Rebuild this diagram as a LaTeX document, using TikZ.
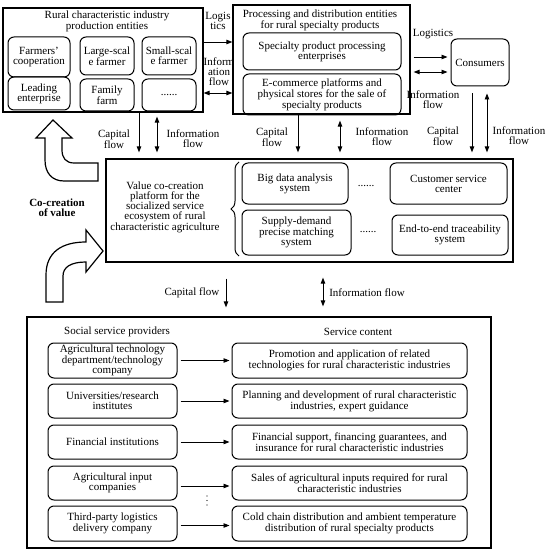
\documentclass[tikz,border=0pt]{standalone}
\usepackage{fontspec}
\setmainfont{Liberation Serif}
\usetikzlibrary{arrows.meta,decorations.pathreplacing,calc}
\begin{document}
\begin{tikzpicture}[x=1pt,y=-1pt,
  every node/.style={font=\fontsize{11}{10}\selectfont, align=center, inner sep=0pt},
  rbox/.style={draw, rounded corners=6pt, line width=1pt},
  obox/.style={draw, line width=1.3pt},
  arr/.style={line width=0.9pt, -{Triangle[length=6pt,width=4.5pt]}},
  darr/.style={line width=0.9pt, {Triangle[length=6pt,width=4.5pt]}-{Triangle[length=6pt,width=4.5pt]}},
  blk/.style={line width=1.2pt, fill=white, line join=miter}]
\useasboundingbox (0,0) rectangle (550,556);

% ---------- top-left group
\node[obox, minimum width=200pt, minimum height=104pt] (tl) at (103,60) {};
\node (tlt) at (107,21) {Rural characteristic industry\\production entities};
\node[rbox, minimum width=62pt, minimum height=40pt] (fc) at (39,57) {Farmers'\\cooperation};
\node[rbox, minimum width=62pt, minimum height=33pt] (le) at (39,93.5) {Leading\\enterprise};
\node[rbox, minimum width=54pt, minimum height=38pt] (ls) at (107,56) {Large-scal\\e farmer};
\node[rbox, minimum width=54pt, minimum height=32pt] (ff) at (107,95) {Family\\farm};
\node[rbox, minimum width=54pt, minimum height=38pt] (ss) at (169,56) {Small-scal\\e farmer};
\node[rbox, minimum width=54pt, minimum height=32pt] (dd) at (169,95) {......};

% ---------- top-middle group
\node[obox, minimum width=177pt, minimum height=109pt] (tm) at (321.5,59.5) {};
\node (tmt) at (320,20) {Processing and distribution entities\\for rural specialty products};
\node[rbox, minimum width=158pt, minimum height=37pt] (sp) at (322,51.5) {Specialty product processing\\enterprises};
\node[rbox, minimum width=158pt, minimum height=41pt] (ec) at (322,94.5) {E-commerce platforms and\\physical stores for the sale of\\specialty products};

% ---------- consumers
\node[rbox, minimum width=58pt, minimum height=47pt] (cons) at (480,62.5) {Consumers};

% ---------- arrows on top row
\draw[arr] (tl.east |- 0,42) -- (tm.west |- 0,42);
\draw[darr] (tl.east |- 0,93) -- (tm.west |- 0,93);
\node (lg1) at (218,21) {Logis\\tics};
\node (if1) at (219,72) {Inform\\ation\\flow};

\draw[arr] ([xshift=3pt]tm.east |- 0,57) -- ([xshift=-3pt]cons.west |- 0,57);
\draw[darr] ([xshift=3pt]tm.east |- 0,72) -- ([xshift=-3pt]cons.west |- 0,72);
\node (lg2) at (433,34) {Logistics};
\node (if2) at (433,100) {Information\\flow};

% ---------- platform
\node[obox, minimum width=407pt, minimum height=103pt] (plat) at (309.5,210.5) {};
\node (platt) at (165,207) {Value co-creation\\platform for the\\socialized service\\ecosystem of rural\\characteristic agriculture};
\draw[line width=1pt, decorate, decoration={brace, amplitude=8pt}] (239,256) -- (239,162);
\node[rbox, minimum width=106pt, minimum height=41pt] (bd) at (295,183.5) {Big data analysis\\system};
\node[rbox, minimum width=109pt, minimum height=45pt] (sd) at (296.5,232.5) {Supply-demand\\precise matching\\system};
\node[rbox, minimum width=117pt, minimum height=41pt] (cs) at (448.5,183.5) {Customer service\\center};
\node[rbox, minimum width=116pt, minimum height=40pt] (et) at (450,235) {End-to-end traceability\\system};
\node (d1) at (366,186) {......};
\node (d2) at (368,232) {......};

% ---------- vertical arrows to platform
\draw[arr] (tl.south -| 139,0) -- ([yshift=6pt]plat.north -| 139,0);
\draw[darr] ([yshift=-4pt]tl.south -| 157,0) -- ([yshift=6pt]plat.north -| 157,0);
\node (cf1) at (114,139) {Capital\\flow};
\node (if3) at (193,139) {Information\\flow};

\draw[arr] (tm.south -| 298,0) -- ([yshift=6pt]plat.north -| 298,0);
\draw[darr] ([yshift=-6pt]tm.south -| 340,0) -- ([yshift=6pt]plat.north -| 340,0);
\node (cf2) at (272,137) {Capital\\flow};
\node (if4) at (382,137) {Information\\flow};

\draw[arr] ([yshift=-7pt]cons.south -| 472,0) -- ([yshift=6pt]plat.north -| 472,0);
\draw[darr] ([yshift=-7pt]cons.south -| 487,0) -- ([yshift=6pt]plat.north -| 487,0);
\node (cf3) at (443,136) {Capital\\flow};
\node (if5) at (519,136) {Information\\flow};

% ---------- block arrows and co-creation label
\draw[blk] (53,120) -- (72,138) -- (62,138) -- (62,150)
  .. controls (62,158) and (66,163) .. (74,163) -- (98,163) -- (98,181) -- (64,181)
  .. controls (52,181) and (45,173) .. (45,160) -- (45,138) -- (36,138) -- cycle;
\draw[blk] (103,251) -- (86,230) -- (86,242)
  .. controls (62,242) and (46,252) .. (46,275) -- (46,302) -- (63,302) -- (63,276)
  .. controls (63,267) and (71,262) .. (86,262) -- (86,272) -- cycle;
\node[font=\bfseries\fontsize{11}{10}\selectfont] (cc) at (57,208) {Co-creation\\of value};

% ---------- arrows to bottom block
\node[obox, minimum width=464pt, minimum height=231pt] (bot) at (259,432.5) {};
\draw[arr] ([yshift=-16pt]plat.south -| 226,0) -- ([yshift=9pt]bot.north -| 226,0);
\draw[darr] ([yshift=-15pt]plat.south -| 323,0) -- ([yshift=10pt]bot.north -| 323,0);
\node (cf4) at (192,293) {Capital flow};
\node (if6) at (367,293) {Information flow};

% ---------- bottom block
\node (h1) at (117,332) {Social service providers};
\node (h2) at (358,332) {Service content};

\node[rbox, minimum width=129pt, minimum height=35pt] (l1) at (112.5,360.5) {Agricultural technology\\department/technology\\company};
\node[rbox, minimum width=235pt, minimum height=35pt] (r1) at (349.5,360.5) {Promotion and application of related\\technologies for rural characteristic industries};
\node[rbox, minimum width=129pt, minimum height=34pt] (l2) at (112.5,401) {Universities/research\\institutes};
\node[rbox, minimum width=235pt, minimum height=34pt] (r2) at (349.5,401) {Planning and development of rural characteristic\\industries, expert guidance};
\node[rbox, minimum width=129pt, minimum height=34pt] (l3) at (112.5,442) {Financial institutions};
\node[rbox, minimum width=235pt, minimum height=34pt] (r3) at (349.5,442) {Financial support, financing guarantees, and\\insurance for rural characteristic industries};
\node[rbox, minimum width=129pt, minimum height=34pt] (l4) at (112.5,483) {Agricultural input\\companies};
\node[rbox, minimum width=235pt, minimum height=34pt] (r4) at (349.5,483) {Sales of agricultural inputs required for rural\\characteristic industries};
\node[rbox, minimum width=129pt, minimum height=35pt] (l5) at (112.5,523.5) {Third-party logistics\\delivery company};
\node[rbox, minimum width=235pt, minimum height=35pt] (r5) at (349.5,523.5) {Cold chain distribution and ambient temperature\\distribution of rural specialty products};

\draw[arr] ([xshift=3pt]l1.east) -- ([xshift=-2pt]r1.west);
\draw[arr] ([xshift=3pt]l2.east) -- ([xshift=-2pt]r2.west);
\draw[arr] ([xshift=3pt]l3.east) -- ([xshift=-2pt]r3.west);
\draw[arr] ([xshift=3pt,yshift=-3pt]l4.east) -- ([xshift=-2pt,yshift=-3pt]r4.west);
\draw[arr] ([xshift=3pt,yshift=-2pt]l5.east) -- ([xshift=-2pt,yshift=-2pt]r5.west);
\foreach \yy in {496,500.5,505} \fill (207,\yy) circle (0.7pt);
\end{tikzpicture}
\end{document}
